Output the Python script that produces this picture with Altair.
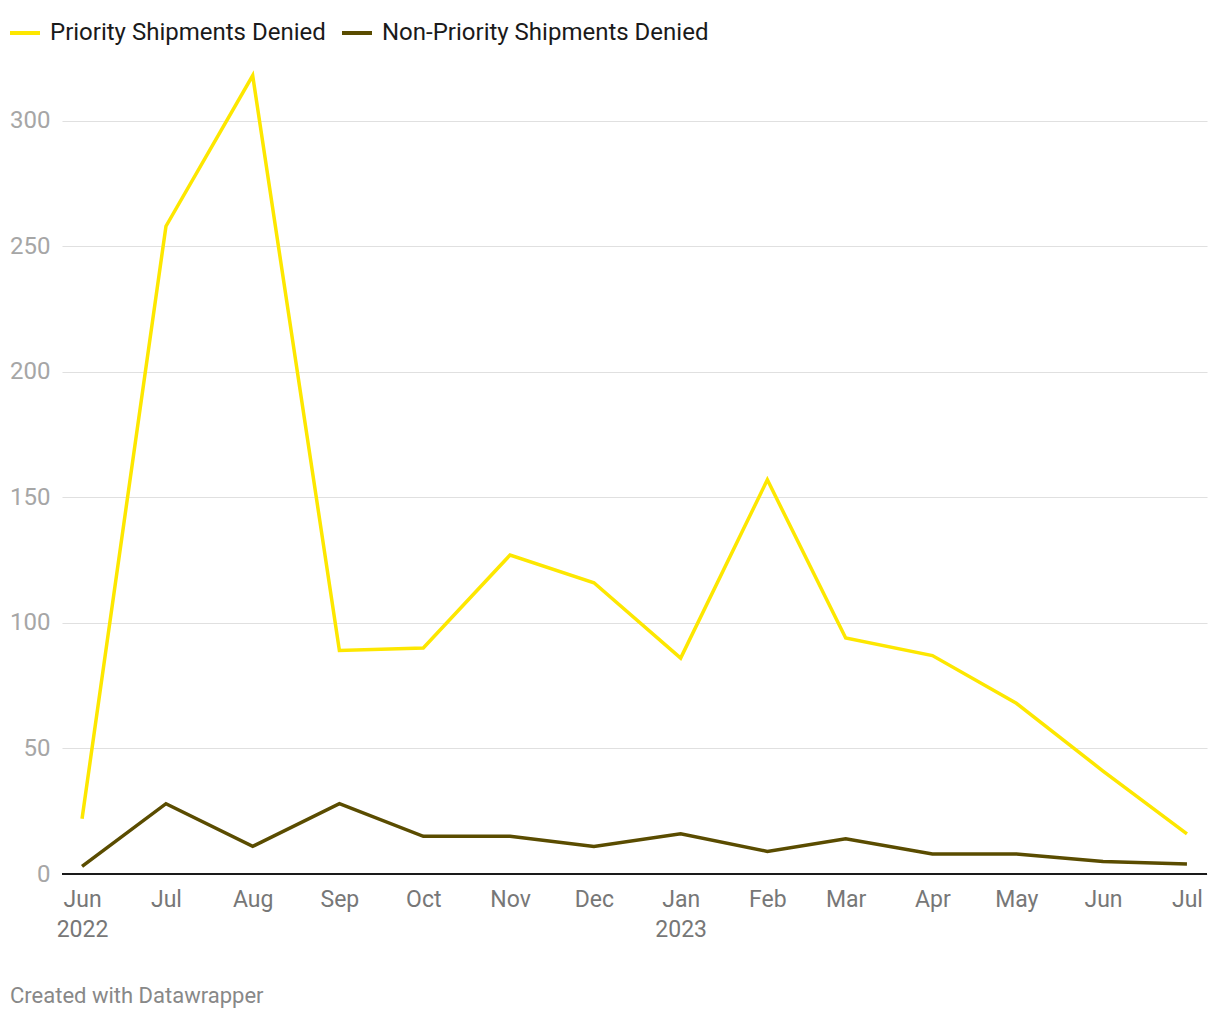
import altair as alt
import pandas as pd

months = ["2022-06-01", "2022-07-01", "2022-08-01", "2022-09-01", "2022-10-01",
          "2022-11-01", "2022-12-01", "2023-01-01", "2023-02-01", "2023-03-01",
          "2023-04-01", "2023-05-01", "2023-06-01", "2023-07-01"]
priority = [22, 258, 318, 89, 90, 127, 116, 86, 157, 94, 87, 68, 41, 16]
non_priority = [3, 28, 11, 28, 15, 15, 11, 16, 9, 14, 8, 8, 5, 4]
series_names = ["Priority Shipments Denied", "Non-Priority Shipments Denied"]
series_colors = ["#fde700", "#5a4c00"]
y_ticks = [0, 50, 100, 150, 200, 250, 300]

rows = []
for m, p, n in zip(months, priority, non_priority):
    rows.append({"date": m, "series": series_names[0], "value": p})
    rows.append({"date": m, "series": series_names[1], "value": n})
df = pd.DataFrame(rows)

label_expr = ("(utcFormat(datum.value, '%m') == '01' || datum.index == 0) ? "
              "[utcFormat(datum.value, '%b'), utcFormat(datum.value, '%Y')] : "
              "utcFormat(datum.value, '%b')")

base = alt.Chart(df)

lines = base.mark_line(strokeWidth=3.5, strokeJoin="miter").encode(
    x=alt.X("date:T",
            scale=alt.Scale(type="utc",
                            domain=["2022-05-24T20:00:00", "2023-07-08T04:00:00"]),
            axis=alt.Axis(values=months, labelExpr=label_expr, title=None,
                          grid=False, domain=False, ticks=False,
                          labelFontSize=23, labelColor="#777777",
                          labelFont="Roboto", labelPadding=14,
                          labelLineHeight=30, labelAlign="center",
                          labelBaseline="top", labelOverlap=False,
                          labelFlush=False)),
    y=alt.Y("value:Q",
            scale=alt.Scale(domain=[0, 325], nice=False),
            axis=alt.Axis(values=y_ticks, title=None, domain=False, ticks=False,
                          gridColor="#e0e0e0", gridWidth=1.2,
                          labelFontSize=24, labelColor="#a6a6a6",
                          labelFont="Roboto", labelPadding=12)),
    color=alt.Color("series:N",
                    scale=alt.Scale(domain=series_names, range=series_colors),
                    legend=alt.Legend(title=None, orient="none",
                                      direction="horizontal",
                                      legendX=-54, legendY=-42,
                                      symbolType="stroke", symbolSize=900,
                                      symbolStrokeWidth=4,
                                      labelFontSize=24, labelFont="Roboto",
                                      labelColor="#1a1a1a", labelOffset=8,
                                      columnPadding=8, labelLimit=400)),
    order=alt.Order("date:T"),
)

baseline = alt.Chart(pd.DataFrame({"v": [0]})).mark_rule(
    color="#1a1a1a", strokeWidth=2).encode(y="v:Q")

chart = alt.layer(lines, baseline).properties(
    width=1145, height=816,
    autosize=alt.AutoSizeParams(type="none"),
    padding={"left": 54, "top": 50, "right": 2, "bottom": 140},
    title=alt.TitleParams("Created with Datawrapper", orient="bottom",
                          anchor="start", align="left", frame="group",
                          dx=-52, offset=45,
                          fontSize=22, font="Roboto", fontWeight="normal",
                          color="#888888"),
).configure(background="white").configure_view(stroke=None)

chart.save("out.html", embed_options={"renderer": "svg", "actions": False})
